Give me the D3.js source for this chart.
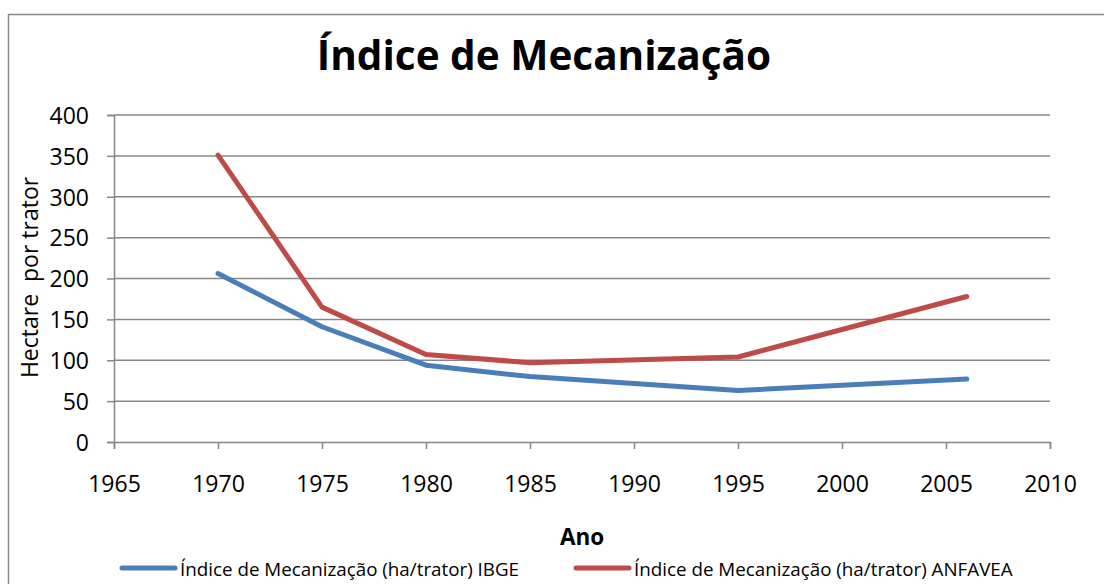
<!DOCTYPE html>
<html>
<head>
<meta charset="utf-8">
<script src="https://cdn.jsdelivr.net/npm/d3@7"></script>
<style>
  body { margin: 0; background: #fff; }
  svg text { font-family: "Open Sans", "DejaVu Sans", sans-serif; fill: #000; }
</style>
</head>
<body>
<div id="chart"></div>
<script>
"use strict";

// data
const years = [1970, 1975, 1980, 1985, 1995, 2006];
const ibge = [206, 141, 94, 80, 63, 77];
const anfavea = [351, 165, 107, 97, 104, 178];
const seriesNames = [
  "Índice de Mecanização (ha/trator) IBGE",
  "Índice de Mecanização (ha/trator) ANFAVEA",
];
const xTicks = [1965, 1970, 1975, 1980, 1985, 1990, 1995, 2000, 2005, 2010];
const yTicks = [0, 50, 100, 150, 200, 250, 300, 350, 400];

const width = 1104;
const height = 584;
const margin = { top: 115, right: 54, bottom: 142, left: 114 };
const gray = "#878787";
const colors = ["#4a7ebb", "#be4b48"];

const svg = d3
  .select("#chart")
  .append("svg")
  .attr("width", width)
  .attr("height", height);

// chart border (right and bottom run off the picture)
svg
  .append("rect")
  .attr("x", 8.5)
  .attr("y", 14.5)
  .attr("width", width + 20)
  .attr("height", height + 20)
  .attr("fill", "none")
  .attr("stroke", gray)
  .attr("stroke-width", 1.5);

const x = d3
  .scaleLinear()
  .domain([1965, 2010])
  .range([margin.left, width - margin.right]);
const y = d3
  .scaleLinear()
  .domain([0, 400])
  .range([height - margin.bottom, margin.top]);

///////////////////////////////////
// gridlines + axes
///////////////////////////////////

svg
  .append("g")
  .selectAll("line")
  .data(yTicks.filter((d) => d > 0))
  .enter()
  .append("line")
  .attr("x1", x(1965))
  .attr("x2", x(2010))
  .attr("y1", (d) => y(d))
  .attr("y2", (d) => y(d))
  .attr("stroke", gray)
  .attr("stroke-width", 1.5);

const yAxis = svg
  .append("g")
  .attr("transform", `translate(${margin.left},0)`)
  .call(d3.axisLeft(y).tickValues(yTicks).tickSize(7).tickPadding(18));

const xAxis = svg
  .append("g")
  .attr("transform", `translate(0,${y(0)})`)
  .call(
    d3.axisBottom(x).tickValues(xTicks).tickFormat(d3.format("d")).tickSize(7).tickPadding(35)
  );

[xAxis, yAxis].forEach((g) => {
  g.select(".domain").attr("stroke", gray).attr("stroke-width", 1.5);
  g.selectAll(".tick line").attr("stroke", gray).attr("stroke-width", 1.5);
  g.selectAll(".tick text")
    .style("font-size", "23px")
    .style("font-family", '"Open Sans", sans-serif');
});
yAxis.selectAll(".tick text").attr("dy", "0.36em");
xAxis.selectAll(".tick text").attr("dy", "0.36em");

///////////////////////////////////
// lines
///////////////////////////////////

const line = d3
  .line()
  .x((d) => x(d[0]))
  .y((d) => y(d[1]));

[ibge, anfavea].forEach((vals, i) => {
  svg
    .append("path")
    .datum(years.map((yr, j) => [yr, vals[j]]))
    .attr("d", line)
    .attr("fill", "none")
    .attr("stroke", colors[i])
    .attr("stroke-width", 5)
    .attr("stroke-linecap", "round")
    .attr("stroke-linejoin", "round");
});

///////////////////////////////////
// titles
///////////////////////////////////

svg
  .append("text")
  .attr("x", 544)
  .attr("y", 70)
  .attr("text-anchor", "middle")
  .style("font-size", "40.5px")
  .style("font-weight", "bold")
  .text("Índice de Mecanização");

svg
  .append("text")
  .attr("x", 582)
  .attr("y", 545)
  .attr("text-anchor", "middle")
  .style("font-size", "22.5px")
  .style("font-weight", "bold")
  .text("Ano");

svg
  .append("text")
  .attr("transform", `translate(38,${(y(0) + y(400)) / 2 - 1}) rotate(-90)`)
  .attr("text-anchor", "middle")
  .style("font-size", "23px")
  .style("white-space", "pre")
  .text("Hectare  por trator");

///////////////////////////////////
// legend
///////////////////////////////////

const legendX = [122, 576];
const legend = svg
  .selectAll(".legend")
  .data(seriesNames)
  .enter()
  .append("g")
  .attr("class", "legend")
  .attr("transform", (d, i) => `translate(${legendX[i]},568)`);

legend
  .append("line")
  .attr("x1", 0)
  .attr("x2", 53)
  .attr("stroke", (d, i) => colors[i])
  .attr("stroke-width", 5)
  .attr("stroke-linecap", "round");

legend
  .append("text")
  .attr("x", 58)
  .attr("y", 8)
  .style("font-size", "18.8px")
  .text((d) => d);
</script>
</body>
</html>
